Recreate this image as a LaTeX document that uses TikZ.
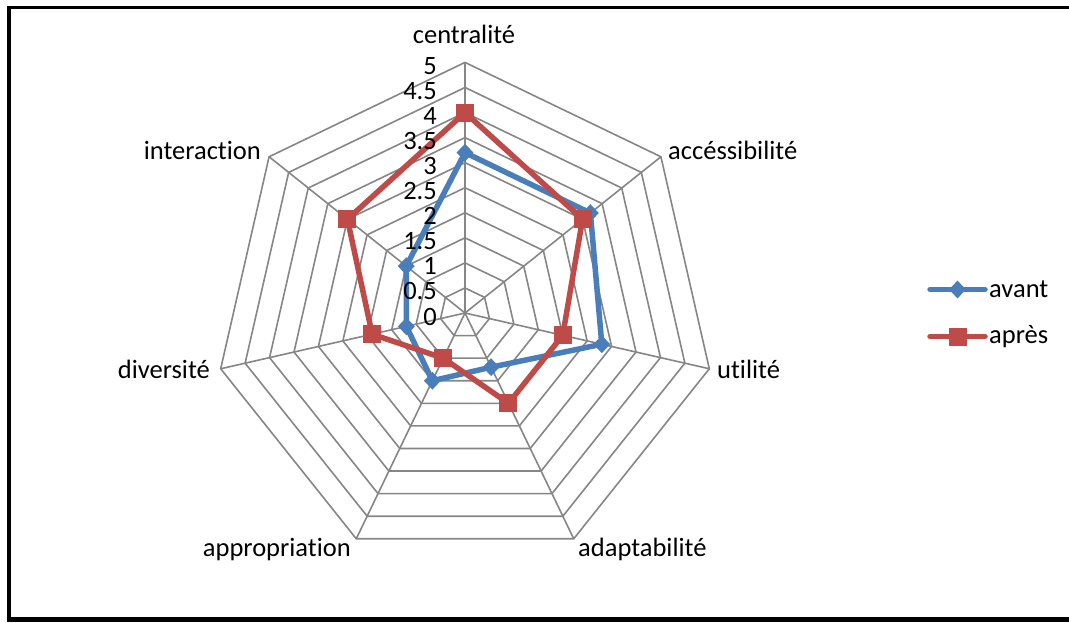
\documentclass[tikz,border=0pt]{standalone}
\usepackage{fontspec}
\setmainfont{Carlito}[Ligatures={NoCommon}]
\usetikzlibrary{shapes.geometric}
\definecolor{gridc}{RGB}{134,134,134}
\definecolor{bluec}{RGB}{74,126,187}
\definecolor{redc}{RGB}{190,75,72}
\begin{document}
\begin{tikzpicture}[x=1pt,y=-1pt,
  lab/.style={font=\fontsize{26.5}{30}\selectfont, inner sep=0pt, text=black},
  gridline/.style={draw=gridc, line width=1.6pt},
  blueseries/.style={draw=bluec, line width=5.5pt, line join=round},
  redseries/.style={draw=redc, line width=5.5pt, line join=round},
  diamondmark/.style={shape=diamond, fill=bluec, draw=none, minimum width=17pt, minimum height=18pt, inner sep=0pt},
  squaremark/.style={shape=rectangle, fill=redc, draw=none, minimum width=18pt, minimum height=18pt, inner sep=0pt},
  frameline/.style={draw=black}]
\useasboundingbox (0,0) rectangle (1069,622);
\fill[white] (0,0) rectangle (1069,622);
% frame
\draw[frameline, line width=3pt] (7,7.5) -- (1069,7.5);
\draw[frameline, line width=4.5pt] (9,6) -- (9,622);
\draw[frameline, line width=5pt] (7,619.5) -- (1069,619.5);
\def\cx{465}
\def\cy{313}
\def\u{50.12}
\coordinate (C) at (\cx,\cy);
% grid rings
\foreach \r in {0.5,1,1.5,2,2.5,3,3.5,4,4.5,5}{
  \draw[gridline, line join=miter] ({\cx},{\cy-\u*\r})
    \foreach \k in {1,...,6}{ -- ({\cx+\u*\r*sin(\k*360/7)},{\cy-\u*\r*cos(\k*360/7)}) } -- cycle;
}
% spokes
\foreach \k in {0,...,6}{
  \coordinate (ax\k) at ({\cx+\u*5*sin(\k*360/7)},{\cy-\u*5*cos(\k*360/7)});
  \draw[gridline] (C) -- (ax\k);
}
% axis labels
\node[lab, anchor=base] (lcen) at (464,43) {centralité};
\node[lab, anchor=base west] (lacc) at (668,159) {accéssibilité};
\node[lab, anchor=base west] (luti) at (717,378) {utilité};
\node[lab, anchor=base west] (lada) at (578,556) {adaptabilité};
\node[lab, anchor=base east] (lapp) at (351,556) {appropriation};
\node[lab, anchor=base east] (ldiv) at (210,378) {diversité};
\node[lab, anchor=base east] (lint) at (261,159) {interaction};
% data points
\foreach \v [count=\k from 0] in {3.2,3.2,2.8,1.2,1.5,1.2,1.5}{
  \coordinate (a\k) at ({\cx+\u*\v*sin(\k*360/7)},{\cy-\u*\v*cos(\k*360/7)});
}
\foreach \v [count=\k from 0] in {4,3,2,2,1,1.9,3}{
  \coordinate (b\k) at ({\cx+\u*\v*sin(\k*360/7)},{\cy-\u*\v*cos(\k*360/7)});
}
% avant series
\draw[blueseries] (a0) -- (a1) -- (a2) -- (a3) -- (a4) -- (a5) -- (a6) -- cycle;
\foreach \k in {0,...,6}{ \node[diamondmark] (ma\k) at (a\k) {}; }
% apres series
\draw[redseries] (b0) -- (b1) -- (b2) -- (b3) -- (b4) -- (b5) -- (b6) -- cycle;
\foreach \k in {0,...,6}{ \node[squaremark] (mb\k) at (b\k) {}; }
% tick labels (drawn on top)
\foreach \t [count=\i from 0] in {0,0.5,1,1.5,2,2.5,3,3.5,4,4.5,5}{
  \node[lab, anchor=base east] (tick\i) at (437,{\cy-\u*\i*0.5+12}) {\t};
}
% legend
\coordinate (la1) at (930,289.5);
\coordinate (la2) at (985,289.5);
\draw[blueseries, line cap=round] (la1) -- (la2);
\node[diamondmark] (lma) at (957.5,289.5) {};
\node[lab, anchor=base west] (lavant) at (989,297) {avant};
\coordinate (lb1) at (930,336.5);
\coordinate (lb2) at (985,336.5);
\draw[redseries, line cap=round] (lb1) -- (lb2);
\node[squaremark] (lmb) at (957.5,336.5) {};
\node[lab, anchor=base west] (lapres) at (989,343.5) {après};
\end{tikzpicture}
\end{document}
